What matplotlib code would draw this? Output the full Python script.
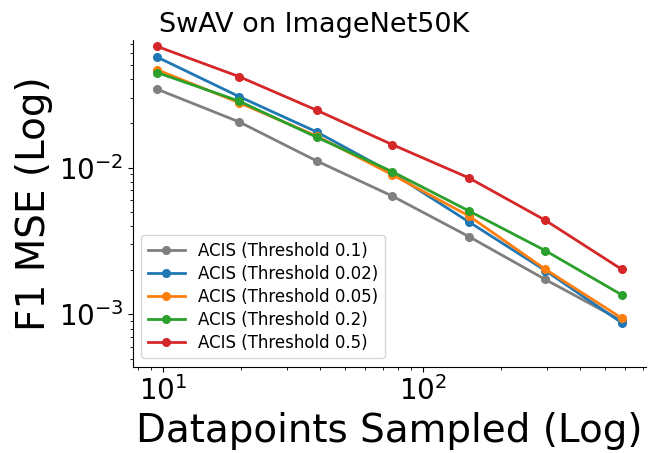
import numpy as np
import matplotlib.pyplot as plt

# datapoints sampled
x = [9.5, 19.6, 39, 76, 150, 295, 580]

mse_t01 = [0.0342, 0.0205, 0.0111, 0.00641, 0.00339, 0.00173, 0.000906]
mse_t002 = [0.0566, 0.0305, 0.0175, 0.0092, 0.00427, 0.00199, 0.000878]
mse_t005 = [0.0464, 0.0277, 0.0164, 0.00896, 0.00469, 0.00203, 0.000945]
mse_t02 = [0.0444, 0.0284, 0.0161, 0.0094, 0.00507, 0.00272, 0.00136]
mse_t05 = [0.0669, 0.0417, 0.0246, 0.01436, 0.00851, 0.00438, 0.00203]

series = [
    ("ACIS (Threshold 0.1)", mse_t01, "tab:gray"),
    ("ACIS (Threshold 0.02)", mse_t002, "tab:blue"),
    ("ACIS (Threshold 0.05)", mse_t005, "tab:orange"),
    ("ACIS (Threshold 0.2)", mse_t02, "tab:green"),
    ("ACIS (Threshold 0.5)", mse_t05, "tab:red"),
]

W, H = 651, 453
fig = plt.figure(figsize=(W / 100, H / 100), dpi=100)
ax = fig.add_axes([133 / W, 1 - 366.7 / H, (646 - 133) / W, (366.7 - 40) / H])

for label, y, c in series:
    ax.plot(x, y, marker="o", markersize=5.5, linewidth=2, color=c, label=label)

ax.set_xscale("log")
ax.set_yscale("log")
ax.set_xlim(7.67, 720)
ax.set_ylim(4.4e-4, 0.074)

ax.spines["top"].set_visible(False)
ax.spines["right"].set_visible(False)
ax.tick_params(axis="both", which="major", labelsize=20)

ax.set_xlabel("Datapoints Sampled (Log)", fontsize=28)
ax.set_ylabel("F1 MSE (Log)", fontsize=28)
ax.set_title("SwAV on ImageNet50K", fontsize=19.5, x=0.353)

ax.legend(loc="lower left", fontsize=12, labelspacing=0.3, handlelength=2.2)

fig.savefig("out.png", dpi=100)
